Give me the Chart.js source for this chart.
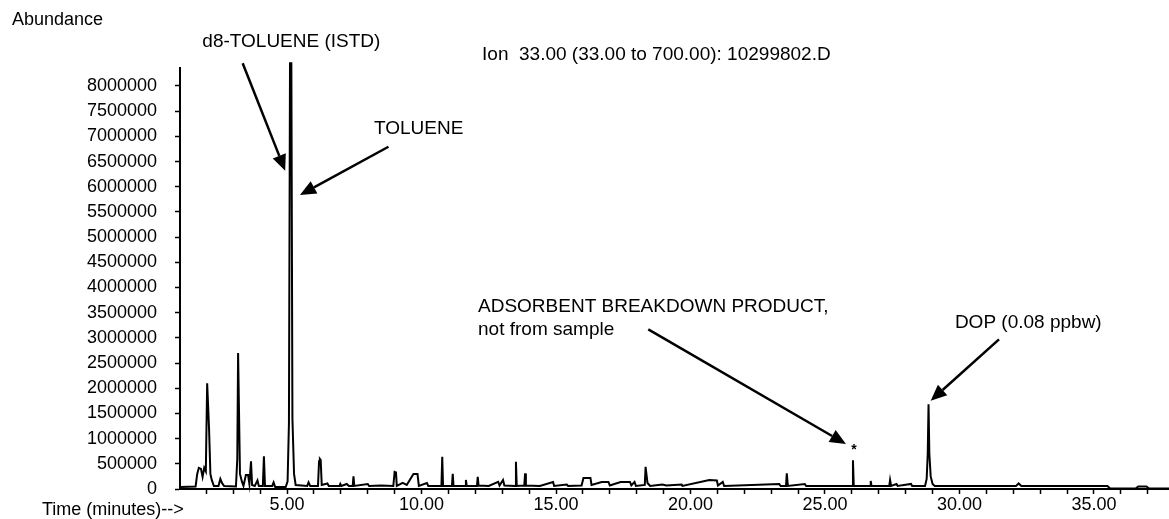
<!DOCTYPE html>
<html>
<head>
<meta charset="utf-8">
<title>Ion 33.00 chromatogram</title>
<script src="https://cdn.jsdelivr.net/npm/chart.js@4.4.0/dist/chart.umd.min.js"></script>
<style>
  html, body { margin: 0; padding: 0; background: #fff; }
  #wrap { width: 1169px; height: 519px; }
</style>
</head>
<body>
<div id="wrap"><canvas id="chart" width="1169" height="519"></canvas></div>
<script>
// retention time (min) and abundance
const timeMin = [
  1.05, 1.60, 1.66, 1.72, 1.80, 1.86, 1.92, 1.98, 2.03, 2.10, 2.15, 2.20, 2.28,
  2.45, 2.52, 2.58, 2.66,
  3.10, 3.15, 3.18, 3.21, 3.25, 3.32, 3.38,
  3.47, 3.55, 3.60, 3.66, 3.70, 3.80, 3.90, 3.95,
  4.10, 4.14, 4.18, 4.45, 4.50, 4.56,
  4.95, 5.02, 5.07, 5.11, 5.16, 5.20, 5.26, 5.32,
  5.75, 5.80, 5.86, 6.15, 6.19, 6.22, 6.25, 6.29, 6.50, 6.55,
  6.95, 6.98, 7.02, 7.22, 7.30, 7.44, 7.47, 7.50, 8.00, 8.05, 8.50,
  8.95, 9.00, 9.05, 9.08, 9.30, 9.45, 9.70, 9.85, 9.90, 10.20, 10.25,
  10.74, 10.77, 10.80, 11.13, 11.16, 11.19, 11.62, 11.65, 11.68,
  12.06, 12.09, 12.12, 12.50, 12.85, 12.90, 13.03, 13.08,
  13.48, 13.51, 13.54, 13.82, 13.85, 13.88, 14.40, 14.89, 14.93, 15.40, 15.45,
  15.95, 16.02, 16.28, 16.32, 16.70, 16.95, 17.00, 17.40, 17.75, 17.80, 17.92, 17.97,
  18.30, 18.33, 18.40, 18.50, 18.95, 19.10, 19.67, 19.70,
  20.70, 20.98, 21.02, 21.20, 21.25,
  23.30, 23.35, 23.55, 23.58, 23.62, 24.25, 24.30,
  26.01, 26.04, 26.07, 26.68, 26.70, 26.73, 27.39, 27.42, 27.46, 27.66, 27.70, 28.20, 28.24,
  28.72, 28.78, 28.82, 28.85, 28.88, 28.93, 29.00, 29.08,
  32.10, 32.20, 32.30, 35.50, 35.60, 36.55, 36.65, 36.95, 37.05, 37.80
];
const abundance = [
  40000, 50000, 300000, 420000, 400000, 240000, 420000, 350000, 2100000, 1200000, 300000, 180000, 60000,
  60000, 200000, 120000, 60000,
  50000, 600000, 2700000, 2700000, 300000, 150000, 60000,
  280000, 280000, 100000, 550000, 80000, 60000, 170000, 60000,
  60000, 650000, 60000, 60000, 130000, 40000,
  40000, 150000, 1300000, 8450000, 8450000, 1400000, 300000, 80000,
  60000, 130000, 60000, 60000, 550000, 600000, 580000, 80000, 110000, 60000,
  60000, 100000, 60000, 100000, 60000, 60000, 250000, 60000, 100000, 60000, 70000,
  60000, 340000, 330000, 60000, 120000, 80000, 300000, 300000, 60000, 120000, 60000,
  60000, 640000, 60000, 60000, 300000, 60000, 60000, 180000, 60000,
  60000, 240000, 70000, 60000, 140000, 70000, 180000, 70000,
  60000, 540000, 60000, 70000, 310000, 70000, 60000, 140000, 60000, 90000, 60000,
  70000, 220000, 220000, 80000, 140000, 140000, 70000, 140000, 140000, 70000, 140000, 60000,
  80000, 440000, 120000, 60000, 90000, 70000, 90000, 60000,
  180000, 170000, 70000, 140000, 60000,
  100000, 60000, 60000, 310000, 60000, 100000, 60000,
  60000, 570000, 60000, 60000, 160000, 60000, 60000, 180000, 60000, 100000, 60000, 100000, 60000,
  60000, 200000, 700000, 1680000, 700000, 250000, 100000, 60000,
  60000, 110000, 60000, 60000, 10000, 10000, 50000, 50000, 10000, 10000
];

const xRange = [1.02, 37.79];
const yRange = [0, 8357000];
const xTickStep = 1;
const xLabelEvery = 5;
const yTicks = [
  0, 500000, 1000000, 1500000, 2000000, 2500000, 3000000, 3500000, 4000000,
  4500000, 5000000, 5500000, 6000000, 6500000, 7000000, 7500000, 8000000
];

// callouts, placed in data units (time, abundance)
const labels = [
  { text: "d8-TOLUENE (ISTD)", t: 1.85, v: 8872000 },
  { text: "Ion  33.00 (33.00 to 700.00): 10299802.D", t: 12.25, v: 8615000 },
  { text: "TOLUENE", t: 8.23, v: 7146000 },
  { text: "ADSORBENT BREAKDOWN PRODUCT,", t: 12.10, v: 3612000 },
  { text: "not from sample", t: 12.10, v: 3156000 },
  { text: "DOP (0.08 ppbw)", t: 29.83, v: 3295000 }
];
const arrows = [
  { from: [3.35, 8450000], to: [4.93, 6318000] },
  { from: [8.77, 6794000], to: [5.48, 5836000] },
  { from: [18.43, 3170000], to: [25.78, 893000] },
  { from: [31.47, 2971000], to: [28.93, 1753000] }
];
const starMark = { t: 26.08, v: 774000 };

const FONT = "'Liberation Sans', Arial, sans-serif";

function drawArrow(ctx, x1, y1, x2, y2) {
  const ang = Math.atan2(y2 - y1, x2 - x1);
  const head = 16, half = 7;
  const bx = x2 - head * Math.cos(ang);
  const by = y2 - head * Math.sin(ang);
  ctx.beginPath();
  ctx.moveTo(x1, y1);
  ctx.lineTo(bx, by);
  ctx.stroke();
  ctx.beginPath();
  ctx.moveTo(x2, y2);
  ctx.lineTo(bx + half * Math.sin(ang), by - half * Math.cos(ang));
  ctx.lineTo(bx - half * Math.sin(ang), by + half * Math.cos(ang));
  ctx.closePath();
  ctx.fill();
}

const calloutPlugin = {
  id: "callouts",
  afterDraw(chart) {
    const { ctx, scales: { x, y } } = chart;
    ctx.save();
    ctx.fillStyle = "#000";
    ctx.strokeStyle = "#000";
    ctx.textBaseline = "middle";
    ctx.textAlign = "left";

    ctx.font = "18px " + FONT;
    ctx.fillText("Abundance", 12, 20);
    ctx.fillText("Time (minutes)-->", 42, 510);

    ctx.font = "19px " + FONT;
    labels.forEach((l) => {
      ctx.fillText(l.text, x.getPixelForValue(l.t), y.getPixelForValue(l.v));
    });

    ctx.lineWidth = 2.5;
    arrows.forEach((a) => {
      drawArrow(
        ctx,
        x.getPixelForValue(a.from[0]), y.getPixelForValue(a.from[1]),
        x.getPixelForValue(a.to[0]), y.getPixelForValue(a.to[1])
      );
    });

    ctx.font = "bold 14px " + FONT;
    ctx.textAlign = "center";
    ctx.fillText("*", x.getPixelForValue(starMark.t), y.getPixelForValue(starMark.v));
    ctx.restore();
  }
};

const tickFont = { family: FONT, size: 18 };

new Chart(document.getElementById("chart"), {
  type: "scatter",
  data: {
    datasets: [
      {
        data: timeMin.map((t, i) => ({ x: t, y: abundance[i] })),
        showLine: true,
        borderColor: "#000",
        borderWidth: 2,
        pointRadius: 0,
        tension: 0,
        clip: false
      }
    ]
  },
  options: {
    responsive: false,
    animation: false,
    layout: { padding: { top: 68, left: 0, right: 0, bottom: 0 } },
    plugins: { legend: { display: false }, tooltip: { enabled: false } },
    scales: {
      x: {
        type: "linear",
        min: xRange[0],
        max: xRange[1],
        border: { display: true, color: "#000", width: 2 },
        grid: { drawOnChartArea: false, drawTicks: true, tickLength: 5, tickColor: "#000", tickWidth: 1.5 },
        ticks: {
          stepSize: xTickStep,
          includeBounds: false,
          autoSkip: false,
          maxRotation: 0,
          padding: 0,
          color: "#000",
          font: tickFont,
          callback: (v) => (Math.abs(v % xLabelEvery) < 1e-6 ? v.toFixed(2) : "")
        },
        afterFit: (s) => { s.height = 30; }
      },
      y: {
        min: yRange[0],
        max: yRange[1],
        border: { display: true, color: "#000", width: 2 },
        grid: { drawOnChartArea: false, drawTicks: true, tickLength: 5, tickColor: "#000", tickWidth: 1.5 },
        ticks: {
          autoSkip: false,
          padding: 18,
          color: "#000",
          font: tickFont,
          callback: (v) => String(v)
        },
        afterBuildTicks: (s) => { s.ticks = yTicks.map((v) => ({ value: v })); },
        afterFit: (s) => { s.width = 180; }
      }
    }
  },
  plugins: [calloutPlugin]
});
</script>
</body>
</html>
